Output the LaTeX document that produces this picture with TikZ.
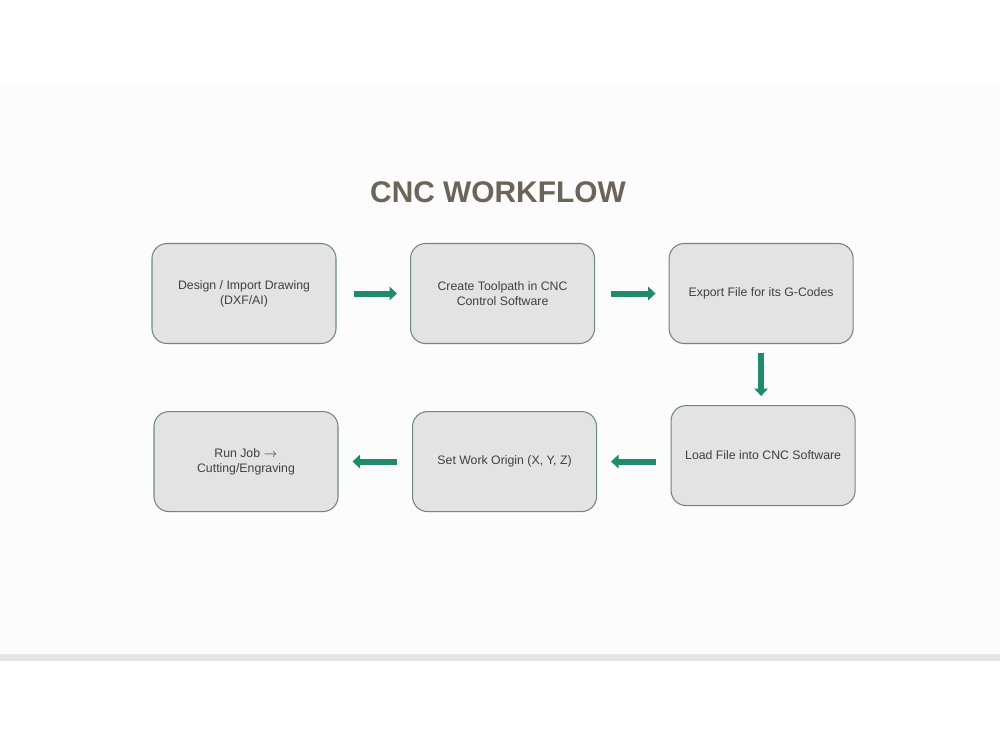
\documentclass[tikz,border=0pt]{standalone}
\usepackage{fontspec}
\setmainfont{Liberation Sans}
\usepackage{xcolor}
\usepackage{tikz}
\usetikzlibrary{positioning,arrows.meta}
\definecolor{boxfill}{HTML}{E3E3E3}
\definecolor{boxline}{HTML}{6F8A7C}
\definecolor{flowgreen}{HTML}{1F8B6C}
\definecolor{titlegray}{HTML}{6A6558}
\definecolor{textgray}{HTML}{404040}

\begin{document}
\begin{tikzpicture}[node distance={14.7mm}, main/.style = {draw=boxline, line width=0.6pt, fill=boxfill, rounded corners=3mm, minimum width=36.8mm, minimum height=20mm, align=center, text=textgray, font=\fontsize{7}{8.4}\selectfont}, flow/.style = {draw=flowgreen, line width=1.2mm, -{Triangle[length=1.5mm, width=2.7mm]}}]
	\useasboundingbox (0,0) rectangle (20,-15);
	\fill[white] (0,0) rectangle (20,-15);
	\fill[black!1] (0,-1.7) rectangle (20,-13.08);
	\fill[black!10] (0,-13.08) rectangle (20,-13.22);
	\node[text=titlegray, font=\fontsize{17}{20}\selectfont\bfseries] (title) at (9.96,-3.84) {CNC WORKFLOW};
	\node[main] (design) at (4.88,-5.87) {Design / Import Drawing\\(DXF/AI)};
	\node[main] [right=of design] (toolpath) {Create Toolpath in CNC\\Control Software};
	\node[main] [right=of toolpath] (export) {Export File for its G-Codes};
	\node[main] [below=12.2mm of export, xshift=0.4mm] (load) {Load File into CNC Software};
	\node[main] [left=of load, yshift=-1.2mm] (origin) {Set Work Origin (X, Y, Z)};
	\node[main] [left=of origin] (run) {Run Job $\rightarrow$\\Cutting/Engraving};
	\draw[flow, shorten <=3.4mm, shorten >=2.6mm] (design) -- (toolpath);
	\draw[flow, shorten <=3.2mm, shorten >=2.6mm] (toolpath) -- (export);
	\draw[flow, shorten <=1.8mm, shorten >=1.8mm] (export.south) -- (export.south |- load.north);
	\draw[flow, shorten <=3mm, shorten >=2.8mm] (load.west |- origin) -- (origin);
	\draw[flow, shorten <=3mm, shorten >=2.8mm] (origin) -- (run);
\end{tikzpicture}
\end{document}
